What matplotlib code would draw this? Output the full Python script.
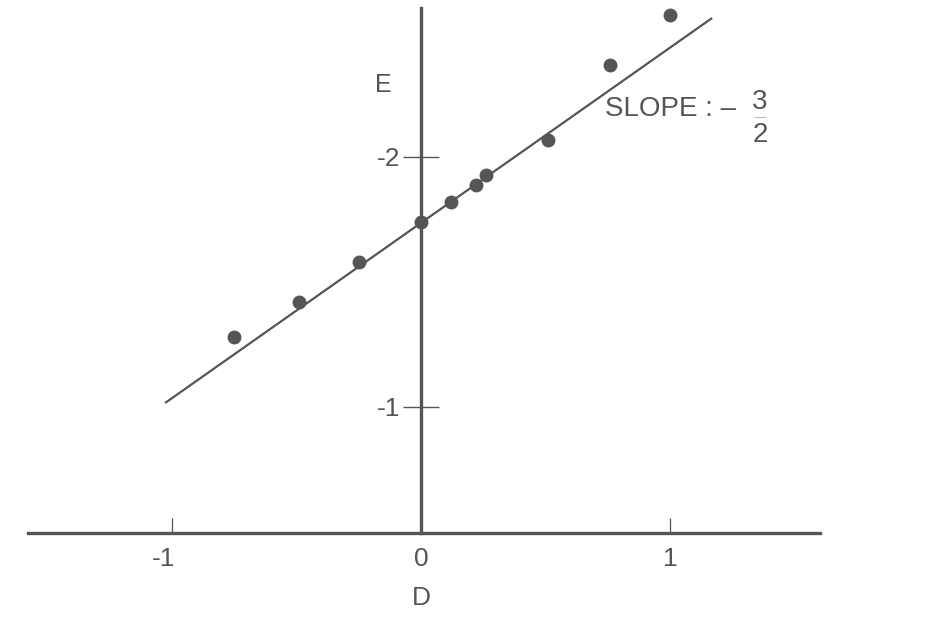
import matplotlib
matplotlib.use("Agg")
import matplotlib.pyplot as plt
from matplotlib.lines import Line2D
from matplotlib.transforms import ScaledTranslation

plt.rcParams['font.family'] = ['Liberation Sans', 'DejaVu Sans']
plt.rcParams['axes.unicode_minus'] = False

# data
D = [-0.75, -0.49, -0.25, 0.0, 0.12, 0.22, 0.26, 0.51, 0.76, 1.0]
E = [-1.28, -1.42, -1.58, -1.74, -1.82, -1.89, -1.93, -2.07, -2.37, -2.57]
fit_D = [-1.028, 1.169]
fit_E = [-1.016, -2.556]
x_ticks = [-1, 0, 1]
x_tick_labels = ['-1', '0', '1']
y_ticks = [-1, -2]
y_tick_labels = ['-1', '-2']
slope_label = 'SLOPE : \u2013'
slope_num, slope_den = '3', '2'

ink = '#555555'

fig = plt.figure(figsize=(9.36, 6.24), dpi=100)
ax = fig.add_axes([0, 0, 1, 1])
ax.set_xlim(-1.691, 2.068)
ax.set_ylim(-0.132, -2.628)

ax.plot(fit_D, fit_E, color=ink, lw=1.6, solid_capstyle='butt', zorder=2)
ax.plot(D, E, 'o', color=ink, ms=9, mec=ink, zorder=3)

for side in ['top', 'right']:
    ax.spines[side].set_visible(False)
ax.spines['left'].set_position(('data', 0))
ax.spines['left'].set_bounds(-2.596, -0.496)
ax.spines['bottom'].set_position(('data', -0.496))
ax.spines['bottom'].set_bounds(-1.578, 1.602)
for side in ['left', 'bottom']:
    ax.spines[side].set_color(ink)
    ax.spines[side].set_linewidth(2.4)

ax.set_xticks(x_ticks)
ax.set_xticklabels(x_tick_labels)
ax.set_yticks(y_ticks)
ax.set_yticklabels(y_tick_labels)
ax.tick_params(axis='x', direction='in', length=11, width=0.9, color=ink,
               labelsize=19, labelcolor=ink, pad=10)
ax.tick_params(axis='y', direction='inout', length=26, width=1.0, color=ink,
               labelsize=19, labelcolor=ink, pad=2)
# the minus sign of "-1" hangs left of the tick, digit sits on the tick
for lab in ax.get_xticklabels():
    if lab.get_text().startswith('-'):
        lab.set_transform(lab.get_transform() + ScaledTranslation(-6 / 72, 0, fig.dpi_scale_trans))

ax.text(-0.153, -2.288, 'E', fontsize=18, color=ink, ha='center', va='center')
ax.text(0.0, -0.236, 'D', fontsize=19, color=ink, ha='center', va='center')
ax.text(0.737, -2.192, slope_label, fontsize=20, color=ink, ha='left', va='center')
ax.text(1.361, -2.22, slope_num, fontsize=20, color=ink, ha='center', va='center')
ax.text(1.361, -2.09, slope_den, fontsize=20, color=ink, ha='center', va='center')
ax.add_line(Line2D([1.342, 1.382], [-2.16, -2.16], color='#bbbbbb', lw=0.8))

fig.savefig('out.png', dpi=100, facecolor='white')
